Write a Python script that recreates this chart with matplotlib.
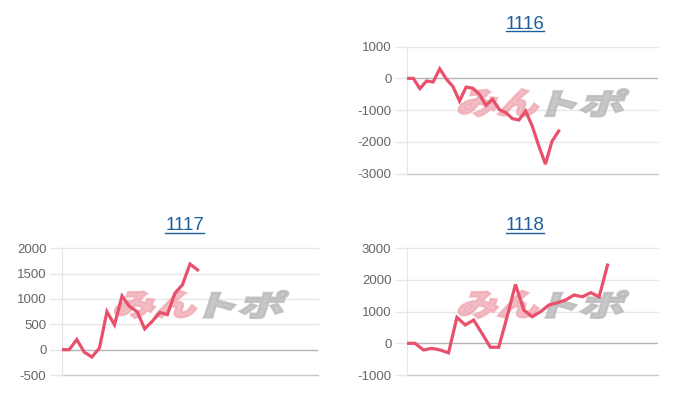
import matplotlib
matplotlib.use("Agg")
import matplotlib.pyplot as plt
from matplotlib.lines import Line2D
from matplotlib.textpath import TextPath
from matplotlib.patches import PathPatch
from matplotlib.font_manager import FontProperties
from matplotlib.transforms import Affine2D

plt.rcParams['font.family'] = ['Liberation Sans', 'DejaVu Sans']
plt.rcParams['axes.unicode_minus'] = False

# chart data
titles = ["1116", "1117", "1118"]
n_slots = [39, 35, 31]
vals_1116 = [0, 0, -325, -85, -115, 300, -20, -260, -715, -275, -310, -500,
             -850, -660, -980, -1080, -1270, -1310, -1030, -1500, -2130, -2700,
             -1980, -1660]
vals_1117 = [0, 0, 200, -50, -145, 30, 750, 490, 1060, 850, 750, 410, 560,
             735, 690, 1115, 1280, 1690, 1575]
vals_1118 = [0, 0, -210, -160, -210, -300, 820, 580, 735, 315, -125, -125,
             840, 1860, 1050, 840, 1000, 1210, 1280, 1370, 1525, 1470, 1600,
             1470, 2470]
yticks_1116 = [-3000, -2000, -1000, 0, 1000]
yticks_1117 = [-500, 0, 500, 1000, 1500, 2000]
yticks_1118 = [-1000, 0, 1000, 2000, 3000]

LINE = '#e9506c'
GRID = '#e6e6e6'
ZERO = '#b4b4b4'
TITLE = '#1d5e9c'

fig = plt.figure(figsize=(7, 4), dpi=100)

wm_font = FontProperties(family='Noto Sans CJK JP', weight='black')


def watermark(ax, text, color, fx0, fx1, fy0, fy1):
    # stretch a text path into a box given in axes fractions, slanted like the logo
    tp = TextPath((0, 0), text, size=1, prop=wm_font)
    ext = tp.get_extents()
    p0 = ax.transAxes.transform((fx0, fy0))
    p1 = ax.transAxes.transform((fx1, fy1))
    wpx, hpx = p1[0] - p0[0], p1[1] - p0[1]
    tr = (Affine2D().translate(-ext.x0, -ext.y0)
          .scale(wpx / ext.width, hpx / ext.height)
          .skew_deg(18, 0)
          .translate(p0[0] - hpx * 0.16, p0[1]))
    patch = PathPatch(tr.transform_path(tp), facecolor=color, edgecolor=color,
                      lw=1.6, alpha=0.8, transform=None, zorder=2, clip_on=False)
    ax.add_artist(patch)


panels = [
    ([0.581, 0.566, 0.3586, 0.3175], 0.750, 0.928, vals_1116, yticks_1116, n_slots[0], titles[0]),
    ([0.0881, 0.0625, 0.3666, 0.3167], 0.264, 0.425, vals_1117, yticks_1117, n_slots[1], titles[1]),
    ([0.581, 0.0625, 0.3586, 0.3167], 0.750, 0.425, vals_1118, yticks_1118, n_slots[2], titles[2]),
]

title_texts = []
for rect, tx, ty, vals, ticks, slots, name in panels:
    ax = fig.add_axes(rect)
    ax.set_xlim(0, slots - 1)
    ax.set_ylim(ticks[0], ticks[-1])
    ax.set_yticks(ticks)
    ax.set_xticks([])
    for t in ticks:
        if t == 0:
            ax.axhline(t, color=ZERO, lw=1.0, zorder=1)
        elif t == ticks[0]:
            ax.axhline(t, color='#c8c8c8', lw=1.0, zorder=1, clip_on=False)
        else:
            ax.axhline(t, color=GRID, lw=1.0, zorder=1, clip_on=False)
    for s in ['top', 'right', 'bottom']:
        ax.spines[s].set_visible(False)
    ax.spines['left'].set_color(GRID)
    ax.tick_params(axis='y', length=9, width=1.0, color=GRID, pad=2,
                   labelsize=9.5, labelcolor='#666666')
    for tk, v in zip(ax.yaxis.get_major_ticks(), ticks):
        if v == 0:
            tk.tick1line.set_color(ZERO)

    watermark(ax, "みん", '#f0aab4', 0.215, 0.53, 0.45, 0.665)
    watermark(ax, "トポ", '#b9b9b9', 0.57, 0.87, 0.45, 0.665)

    ax.plot(range(len(vals)), vals, color=LINE, lw=2.3, solid_joinstyle='miter', zorder=3)

    t = fig.text(tx, ty, name, ha='center', va='baseline', fontsize=13.5, color=TITLE)
    title_texts.append(t)

# underline the titles
fig.canvas.draw()
r = fig.canvas.get_renderer()
for t in title_texts:
    bb = t.get_window_extent(renderer=r)
    x0, x1 = bb.x0 / 700, bb.x1 / 700
    y = t.get_position()[1] - 2.5 / 400
    fig.add_artist(Line2D([x0, x1], [y, y], color=TITLE, lw=1.0))

fig.savefig("out.png", dpi=100)
